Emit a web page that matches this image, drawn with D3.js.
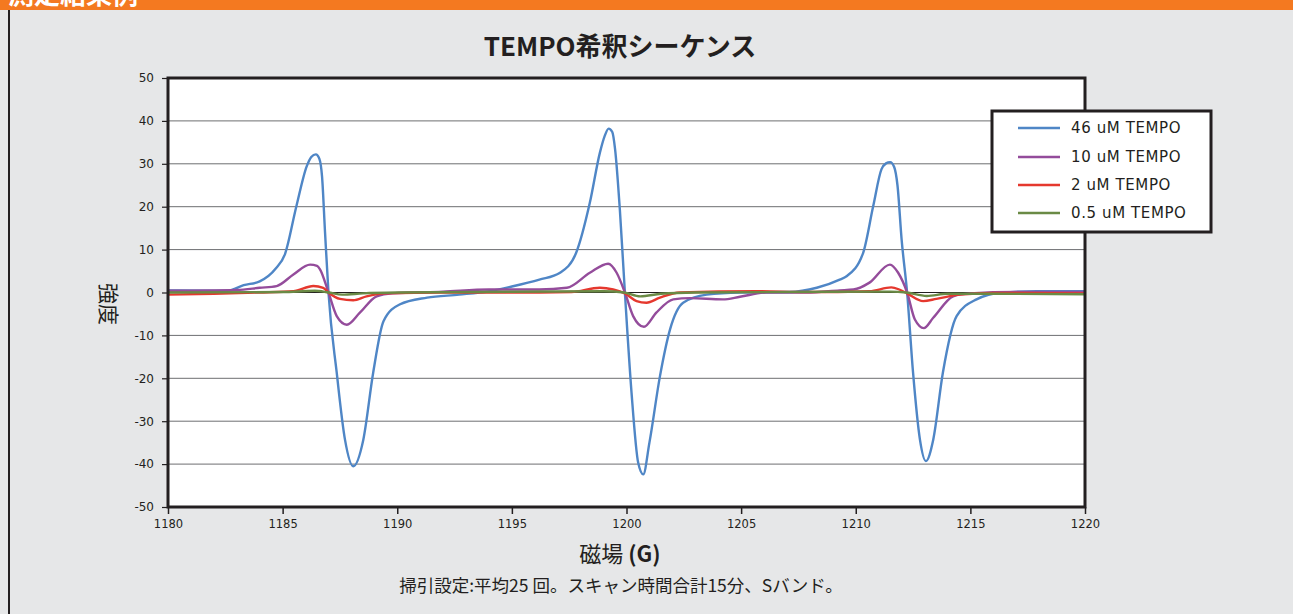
<!DOCTYPE html>
<html>
<head>
<meta charset="utf-8">
<script src="https://cdn.jsdelivr.net/npm/d3@7"></script>
<style>
  html, body { margin: 0; padding: 0; background: #e6e7e8; }
  svg { display: block; }
  .tick text { font-family: "DejaVu Sans", sans-serif; fill: #231f20; }
</style>
</head>
<body>
<div id="chart"></div>
<script>
// field (G) and intensity readings per series
const fields46 = [1180, 1182, 1182.6, 1183.3, 1184.0, 1184.7, 1185.1, 1185.6, 1186.05, 1186.25, 1186.45, 1186.6, 1186.72, 1186.85, 1187.0, 1187.36, 1187.72, 1188.08, 1188.52, 1188.95, 1189.4, 1190.1, 1191.3, 1192.7, 1194.0, 1195.0, 1196.2, 1197.1, 1197.8, 1198.4, 1198.84, 1199.05, 1199.22, 1199.38, 1199.5, 1199.71, 1199.93, 1200.22, 1200.51, 1200.73, 1201.0, 1201.46, 1201.9, 1202.47, 1203.5, 1204.95, 1207.1, 1208.3, 1209.3, 1209.6, 1210.32, 1210.76, 1211.12, 1211.32, 1211.5, 1211.68, 1211.82, 1212.0, 1212.24, 1212.5, 1212.8, 1213.06, 1213.38, 1213.8, 1214.4, 1215.27, 1216.4, 1217.9, 1220];
const values46 = [0.5, 0.4, 0.4, 1.7, 2.6, 5.6, 8.9, 20.1, 29.4, 31.6, 32.2, 31.2, 27, 14, 0, -18.7, -34.3, -40.5, -34.3, -18.7, -6.7, -2.8, -1.2, -0.5, 0.3, 1.4, 3.0, 4.6, 9.2, 20.9, 32.6, 36.5, 38.2, 37.4, 33.5, 19.3, 0, -23.4, -39.7, -42.4, -35, -19.5, -8.6, -2.4, -0.5, 0, 0.1, 1.1, 3.0, 3.8, 9.2, 20.1, 28.7, 30.1, 30.4, 29.2, 25, 12.4, 0, -18.7, -34.3, -39.3, -34.3, -18.7, -5.5, -1.6, 0, 0.3, 0.3];

const fields10 = [1180, 1183, 1184.0, 1184.74, 1185.47, 1186.2, 1186.5, 1186.63, 1187.0, 1187.36, 1187.8, 1188.37, 1189.1, 1189.8, 1192, 1194, 1196.2, 1197.4, 1198.4, 1199.2, 1199.57, 1199.93, 1200.29, 1200.76, 1201.3, 1202.04, 1202.77, 1204.2, 1204.95, 1206.1, 1207.85, 1209.3, 1209.9, 1210.6, 1211.49, 1211.85, 1212.24, 1212.58, 1212.97, 1213.38, 1214.25, 1214.98, 1217, 1220];
const values10 = [0.4, 0.6, 1.1, 1.5, 4.2, 6.5, 6.2, 5.4, 0, -5.5, -7.5, -4.7, -0.9, -0.2, 0.2, 0.7, 0.7, 1.1, 4.6, 6.7, 4.6, 0, -5.5, -8.0, -4.7, -1.6, -1.3, -1.6, -1.0, 0, 0, 0.5, 0.7, 2.3, 6.5, 4.6, 0, -6.3, -8.3, -5.9, -0.9, -0.2, 0.1, 0.1];

const fields2 = [1180, 1182, 1184.0, 1185.47, 1186.34, 1186.77, 1187.0, 1187.5, 1188.08, 1188.66, 1189.5, 1192, 1196.2, 1197.6, 1198.84, 1199.42, 1199.93, 1200.44, 1200.87, 1201.46, 1202.33, 1205.67, 1207.85, 1210.6, 1211.55, 1211.9, 1212.24, 1212.94, 1213.52, 1214.54, 1216, 1220];
const values2 = [-0.5, -0.3, 0, 0.3, 1.5, 1.1, 0, -1.5, -1.8, -0.9, -0.2, 0, 0, 0.1, 1.1, 0.7, -0.2, -2.0, -2.4, -1.2, 0, 0.3, 0.1, 0.3, 1.2, 0.7, -0.2, -2.0, -1.5, -0.5, -0.1, -0.2];

const fields05 = [1180, 1185, 1186.4, 1187.0, 1187.6, 1188.5, 1190, 1199.0, 1199.9, 1200.6, 1201.5, 1203, 1211.5, 1212.2, 1213.1, 1214, 1216, 1220];
const values05 = [0, 0.1, 0.4, 0, -0.5, -0.2, 0, 0.3, 0, -0.9, -0.3, 0, 0.2, 0, -0.8, -0.3, -0.3, -0.4];

const seriesLabels = ['46 uM TEMPO', '10 uM TEMPO', '2 uM TEMPO', '0.5 uM TEMPO'];
const seriesColors = ['#4f86c6', '#944c9b', '#e5382e', '#6a8a45'];
const xTicks = [1180, 1185, 1190, 1195, 1200, 1205, 1210, 1215, 1220];
const yTicks = [-50, -40, -30, -20, -10, 0, 10, 20, 30, 40, 50];

const datasets = [
  [fields46, values46], [fields10, values10], [fields2, values2], [fields05, values05]
].map(([f, v], i) => ({
  label: seriesLabels[i],
  color: seriesColors[i],
  data: f.map((x, j) => ({ x, y: v[j] }))
}));

const W = 1293, H = 614;
const plot = { left: 168, right: 1085, top: 78, bottom: 507 };
const ink = '#231f20';

const svg = d3.select('#chart').append('svg')
  .attr('width', W)
  .attr('height', H);

svg.append('rect').attr('width', W).attr('height', H).attr('fill', '#e6e7e8');

// orange header strip with cut-off heading
svg.append('clipPath').attr('id', 'hdr')
  .append('rect').attr('width', W).attr('height', 10);
svg.append('rect').attr('width', W).attr('height', 10).attr('fill', '#f47920');
svg.append('text')
  .attr('clip-path', 'url(#hdr)')
  .attr('x', 8).attr('y', 4)
  .attr('fill', '#fff')
  .attr('font-family', '"Noto Sans CJK JP", sans-serif')
  .attr('font-weight', 'bold')
  .attr('font-size', 26)
  .text('測定結果例');
svg.append('line')
  .attr('x1', 9).attr('x2', 9).attr('y1', 10).attr('y2', H)
  .attr('stroke', ink).attr('stroke-width', 2);

const x = d3.scaleLinear().domain([1180, 1220]).range([plot.left, plot.right]);
const y = d3.scaleLinear().domain([-50, 50]).range([plot.bottom, plot.top]);

svg.append('rect')
  .attr('x', plot.left).attr('y', plot.top)
  .attr('width', plot.right - plot.left).attr('height', plot.bottom - plot.top)
  .attr('fill', '#fff');

// gridlines
svg.append('g').selectAll('line')
  .data(yTicks.filter(d => d !== 0))
  .enter().append('line')
  .attr('x1', plot.left).attr('x2', plot.right)
  .attr('y1', d => y(d)).attr('y2', d => y(d))
  .attr('stroke', '#6d6e71').attr('stroke-width', 1);

svg.append('line')
  .attr('x1', plot.left).attr('x2', plot.right)
  .attr('y1', y(0)).attr('y2', y(0))
  .attr('stroke', ink).attr('stroke-width', 1.2);

// axes
const yAxis = svg.append('g')
  .attr('transform', `translate(${plot.left},0)`)
  .call(d3.axisLeft(y).tickValues(yTicks).tickSize(6).tickPadding(8)
    .tickFormat(d => String(d)));
yAxis.select('.domain').remove();
yAxis.selectAll('.tick line').attr('stroke', ink).attr('stroke-width', 1.2);
yAxis.selectAll('.tick text').attr('font-size', 12);

const xAxis = svg.append('g')
  .attr('transform', `translate(0,${plot.bottom})`)
  .call(d3.axisBottom(x).tickValues(xTicks).tickSize(7).tickPadding(6)
    .tickFormat(d => String(d)));
xAxis.select('.domain').remove();
xAxis.selectAll('.tick line').attr('stroke', ink).attr('stroke-width', 1.5);
xAxis.selectAll('.tick text').attr('font-size', 11.5);

// series
const line = d3.line()
  .x(d => x(d.x))
  .y(d => y(d.y))
  .curve(d3.curveMonotoneX);

datasets.forEach(ds => {
  svg.append('path')
    .datum(ds.data)
    .attr('d', line)
    .attr('fill', 'none')
    .attr('stroke', ds.color)
    .attr('stroke-width', 2.4)
    .attr('stroke-linejoin', 'round');
});

// plot frame
svg.append('rect')
  .attr('x', plot.left).attr('y', plot.top)
  .attr('width', plot.right - plot.left).attr('height', plot.bottom - plot.top)
  .attr('fill', 'none').attr('stroke', ink).attr('stroke-width', 3);

// legend
const legend = svg.append('g').attr('transform', 'translate(992,111)');
legend.append('rect')
  .attr('width', 219).attr('height', 121)
  .attr('fill', '#fff').attr('stroke', ink).attr('stroke-width', 3);
const rows = [17, 46, 74, 102];
datasets.forEach((ds, i) => {
  legend.append('line')
    .attr('x1', 26).attr('x2', 68)
    .attr('y1', rows[i]).attr('y2', rows[i])
    .attr('stroke', ds.color).attr('stroke-width', 2.4);
  legend.append('text')
    .attr('x', 79).attr('y', rows[i]).attr('dy', '0.36em')
    .attr('font-family', '"DejaVu Sans", sans-serif')
    .attr('font-size', 15)
    .attr('letter-spacing', 0.6)
    .attr('fill', ink)
    .text(ds.label);
});

// titles
svg.append('text')
  .attr('x', 620).attr('y', 56)
  .attr('text-anchor', 'middle')
  .attr('font-family', '"Noto Sans CJK JP", sans-serif')
  .attr('font-weight', 'bold')
  .attr('font-size', 26)
  .attr('fill', ink)
  .text('TEMPO希釈シーケンス');

svg.append('text')
  .attr('transform', 'translate(101,304) rotate(90)')
  .attr('text-anchor', 'middle')
  .attr('font-family', '"Noto Sans CJK JP", sans-serif')
  .attr('font-size', 21)
  .attr('fill', ink)
  .text('強度');

const xl = svg.append('text')
  .attr('x', 620).attr('y', 562)
  .attr('text-anchor', 'middle')
  .attr('font-family', '"Noto Sans CJK JP", sans-serif')
  .attr('font-size', 22)
  .attr('fill', ink);
xl.append('tspan').text('磁場 ');
xl.append('tspan').attr('font-weight', 'bold').text('(G)');

svg.append('text')
  .attr('x', 621).attr('y', 592)
  .attr('text-anchor', 'middle')
  .attr('font-family', '"Noto Sans CJK JP", sans-serif')
  .attr('font-size', 17.5)
  .attr('fill', ink)
  .text('掃引設定:平均25 回。スキャン時間合計15分、Sバンド。');
</script>
</body>
</html>
